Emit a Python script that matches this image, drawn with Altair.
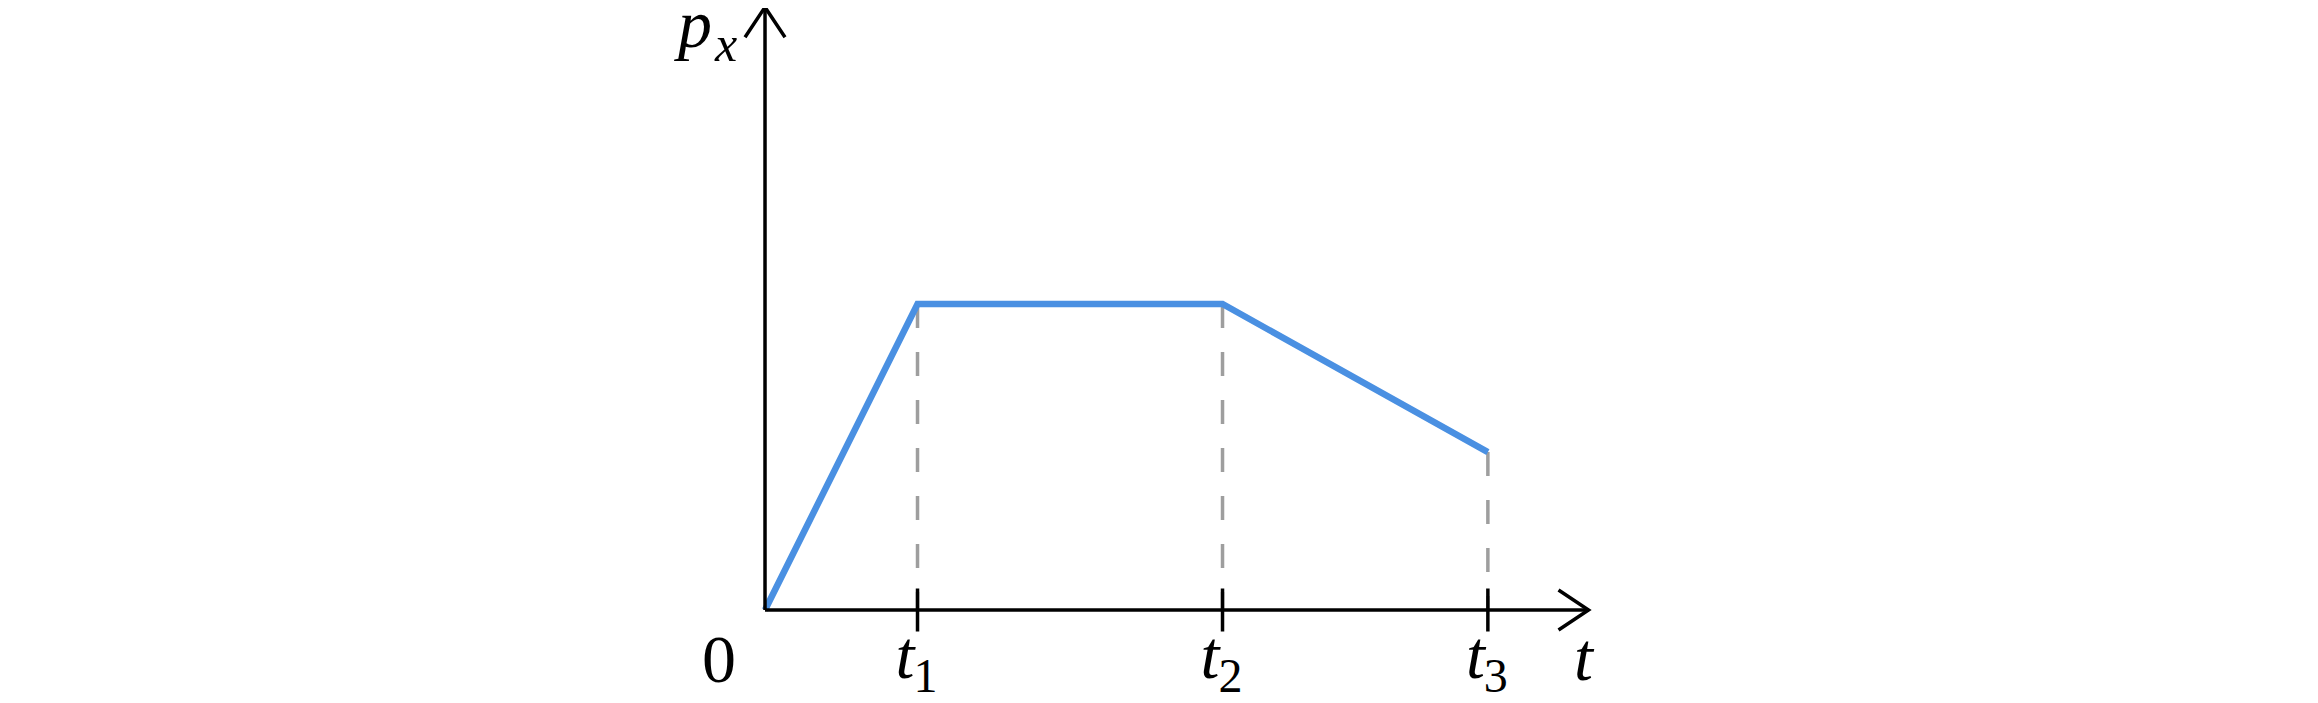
import altair as alt
import pandas as pd

# ---- data ----
t_names = ["1", "2", "3"]
t_values = [1.0, 3.0, 4.74]
curve_t = [0.0, 1.0, 3.0, 4.74]
curve_p = [0.0, 1.0, 1.0, 0.516]
x_axis_end = 5.4
y_axis_end = 1.97

X_DOMAIN = [-4.964, 10.131]
Y_DOMAIN = [-0.3039, 1.9673]

FONT = "Liberation Serif"

xs = alt.Scale(domain=X_DOMAIN, nice=False, zero=False)
ys = alt.Scale(domain=Y_DOMAIN, nice=False, zero=False)

curve_df = pd.DataFrame({"t": curve_t, "p": curve_p})
marks_df = pd.DataFrame({"t": t_values, "name": t_names,
                         "p": [curve_p[1], curve_p[2], curve_p[3]], "zero": [0.0] * 3})
axes_df = pd.DataFrame({"x0": [0.0, 0.0], "x1": [x_axis_end, 0.0],
                        "y0": [0.0, 0.0], "y1": [0.0, y_axis_end]})

X = lambda f: alt.X(f, type="quantitative", scale=xs, axis=None)
Y = lambda f: alt.Y(f, type="quantitative", scale=ys, axis=None)

dashes = alt.Chart(marks_df).mark_rule(
    color="#9e9e9e", strokeWidth=3.5, strokeDash=[24, 24]
).encode(x=X("t"), y=Y("p"), y2=alt.Y2("zero"))

curve = alt.Chart(curve_df).mark_line(
    color="#4a90e2", strokeWidth=6.5
).encode(x=X("t"), y=Y("p"), order=alt.Order("t:Q"))

axes = alt.Chart(axes_df).mark_rule(color="black", strokeWidth=3.5).encode(
    x=X("x0"), x2=alt.X2("x1"), y=Y("y0"), y2=alt.Y2("y1"))

ticks = alt.Chart(marks_df).mark_tick(
    orient="vertical", size=43, thickness=3.5, color="black", opacity=1
).encode(x=X("t"), y=Y("zero"))

arrow_right = alt.Chart(pd.DataFrame({"x": [x_axis_end], "y": [0.0]})).mark_point(
    shape="M -1 -0.6667 L 0 0 L -1 0.6667", size=3600, filled=False,
    stroke="black", strokeWidth=3.5, opacity=1
).encode(x=X("x"), y=Y("y"))

arrow_up = alt.Chart(pd.DataFrame({"x": [0.0], "y": [y_axis_end]})).mark_point(
    shape="M -0.6667 1 L 0 0 L 0.6667 1", size=3600, filled=False,
    stroke="black", strokeWidth=3.5, opacity=1
).encode(x=X("x"), y=Y("y"))

t_main = alt.Chart(marks_df).mark_text(
    text="t", font=FONT, fontStyle="italic", fontSize=68, align="right",
    baseline="alphabetic", dx=-3, dy=68, color="black"
).encode(x=X("t"), y=Y("zero"))

t_sub = alt.Chart(marks_df).mark_text(
    font=FONT, fontSize=48, align="left", baseline="alphabetic",
    dx=-4, dy=82, color="black"
).encode(x=X("t"), y=Y("zero"), text="name:N")

end_df = pd.DataFrame({"x": [x_axis_end], "y": [0.0]})
t_end = alt.Chart(end_df).mark_text(
    text="t", font=FONT, fontStyle="italic", fontSize=68, align="center",
    baseline="alphabetic", dx=-5, dy=70, color="black"
).encode(x=X("x"), y=Y("y"))

origin_df = pd.DataFrame({"x": [0.0], "y": [0.0]})
zero_lbl = alt.Chart(origin_df).mark_text(
    text="0", font=FONT, fontSize=68, align="center",
    baseline="alphabetic", dx=-46, dy=72, color="black"
).encode(x=X("x"), y=Y("y"))

top_df = pd.DataFrame({"x": [0.0], "y": [y_axis_end]})
p_lbl = alt.Chart(top_df).mark_text(
    text="p", font=FONT, fontStyle="italic", fontSize=68, align="right",
    baseline="alphabetic", dx=-53, dy=40, color="black"
).encode(x=X("x"), y=Y("y"))
x_lbl = alt.Chart(top_df).mark_text(
    text="x", font=FONT, fontStyle="italic", fontSize=50, align="left",
    baseline="alphabetic", dx=-50, dy=54, color="black"
).encode(x=X("x"), y=Y("y"))

chart = alt.layer(
    dashes, curve, axes, ticks, arrow_right, arrow_up,
    t_main, t_sub, t_end, zero_lbl, p_lbl, x_lbl
).properties(
    width=2302, height=695, padding=0,
    autosize=alt.AutoSizeParams(type="none")
).configure_view(strokeOpacity=0)

chart.save("out.html", embed_options={"renderer": "svg", "actions": False})
